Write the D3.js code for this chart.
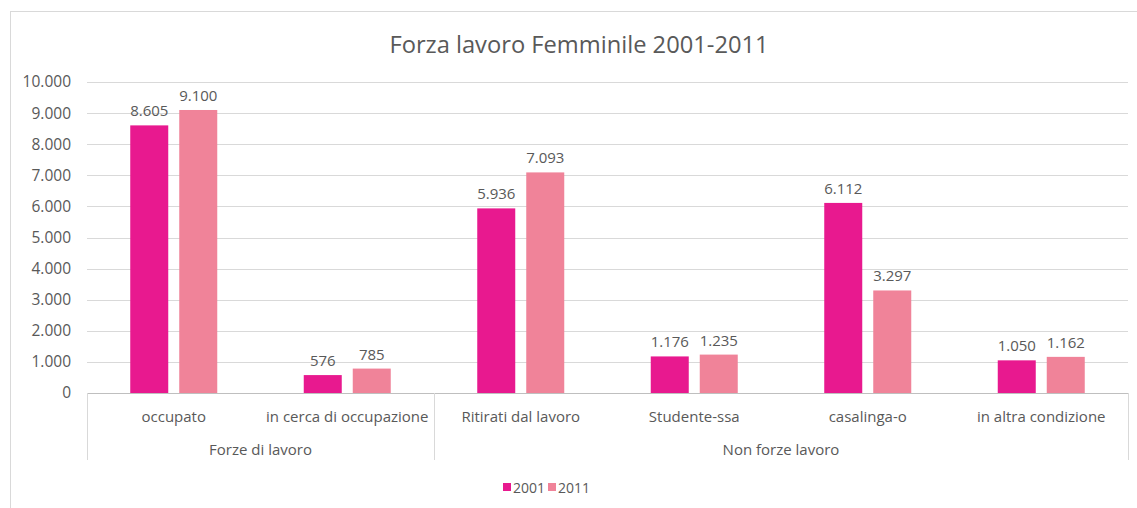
<!DOCTYPE html>
<html>
<head>
<meta charset="utf-8">
<script src="https://cdn.jsdelivr.net/npm/d3@7"></script>
<style>
  body { margin: 0; background: #fff; }
  text { font-family: "Open Sans", "Noto Sans", sans-serif; fill: #595959; }
</style>
</head>
<body>
<svg width="1137" height="508"></svg>
<script>
var categories = ["occupato", "in cerca di occupazione", "Ritirati dal lavoro", "Studente-ssa", "casalinga-o", "in altra condizione"];
var groups = [
  {name: "Forze di lavoro", from: 0, to: 2},
  {name: "Non forze lavoro", from: 2, to: 6}
];
var seriesNames = ["2001", "2011"];
var values2001 = [8605, 576, 5936, 1176, 6112, 1050];
var values2011 = [9100, 785, 7093, 1235, 3297, 1162];
var yTicks = [0, 1000, 2000, 3000, 4000, 5000, 6000, 7000, 8000, 9000, 10000];
var colors = ["#E8198F", "#F08399"];

var svg = d3.select("svg"),
    margin = {top: 82, right: 9, bottom: 115, left: 87},
    width = +svg.attr("width") - margin.left - margin.right,
    height = +svg.attr("height") - margin.top - margin.bottom;

var fmt = function(v) { return d3.format(",")(v).replace(/,/g, "."); };

// chart frame
svg.append("rect")
    .attr("x", 10.5).attr("y", 11.5)
    .attr("width", 1140).attr("height", 520)
    .style("fill", "none").style("stroke", "#D9D9D9");

svg.append("text")
    .attr("x", 579).attr("y", 53)
    .attr("text-anchor", "middle")
    .style("font-size", "23.7px")
    .text("Forza lavoro Femminile 2001-2011");

var x = d3.scaleBand().domain(d3.range(categories.length)).range([0, width]),
    y = d3.scaleLinear().domain([0, 10000]).range([height, 0]);

var g = svg.append("g")
    .attr("transform", "translate(" + margin.left + "," + margin.top + ")");

// gridlines
g.selectAll(".grid")
  .data(yTicks.slice(1))
  .enter().append("line")
    .attr("x1", 0).attr("x2", width)
    .attr("y1", function(d) { return Math.round(y(d)) + 0.5; })
    .attr("y2", function(d) { return Math.round(y(d)) + 0.5; })
    .style("stroke", "#D9D9D9");

var yAxis = g.append("g")
    .call(d3.axisLeft(y).tickValues(yTicks).tickFormat(fmt).tickSize(0).tickPadding(16));
yAxis.select(".domain").remove();
yAxis.selectAll("text").style("font-size", "15.5px").style("fill", "#595959")
    .style("font-family", "'Open Sans', sans-serif");

var series = [values2001, values2011];
var barW = 38, gap = 11;

series.forEach(function(vals, s) {
  var off = x.bandwidth() / 2 - barW - gap / 2 + s * (barW + gap);
  g.selectAll(".bar" + s)
    .data(vals)
    .enter().append("rect")
      .attr("x", function(d, i) { return x(i) + off; })
      .attr("y", function(d) { return y(d); })
      .attr("width", barW)
      .attr("height", function(d) { return height - y(d); })
      .style("fill", colors[s]);
  g.selectAll(".lab" + s)
    .data(vals)
    .enter().append("text")
      .attr("x", function(d, i) { return x(i) + off + barW / 2; })
      .attr("y", function(d) { return y(d) - 9; })
      .attr("text-anchor", "middle")
      .style("font-size", "15px")
      .text(fmt);
});

// x axis line
g.append("line")
    .attr("x1", 0).attr("x2", width)
    .attr("y1", height + 0.5).attr("y2", height + 0.5)
    .style("stroke", "#BFBFBF");

// category labels
g.selectAll(".cat")
  .data(categories)
  .enter().append("text")
    .attr("x", function(d, i) { return x(i) + x.bandwidth() / 2; })
    .attr("y", height + 29)
    .attr("text-anchor", "middle")
    .style("font-size", "15px")
    .text(function(d) { return d; });

// group separators
var seps = [0].concat(groups.map(function(gr) { return gr.to; }));
g.selectAll(".sep")
  .data(seps)
  .enter().append("line")
    .attr("x1", function(d) { return Math.round(d === categories.length ? width : x(d)) + 0.5; })
    .attr("x2", function(d) { return Math.round(d === categories.length ? width : x(d)) + 0.5; })
    .attr("y1", height).attr("y2", height + 67)
    .style("stroke", "#D9D9D9");

g.selectAll(".grp")
  .data(groups)
  .enter().append("text")
    .attr("x", function(d) { return (x(d.from) + (d.to === categories.length ? width : x(d.to))) / 2; })
    .attr("y", height + 62)
    .attr("text-anchor", "middle")
    .style("font-size", "15px")
    .text(function(d) { return d.name; });

// legend
var legend = svg.append("g").attr("transform", "translate(503,480)");
seriesNames.forEach(function(name, s) {
  var lg = legend.append("g").attr("transform", "translate(" + (s * 45) + ",0)");
  lg.append("rect").attr("width", 8).attr("height", 8).attr("y", 3).style("fill", colors[s]);
  lg.append("text").attr("x", 10).attr("y", 12.5).style("font-size", "14px").text(name);
});
</script>
</body>
</html>
